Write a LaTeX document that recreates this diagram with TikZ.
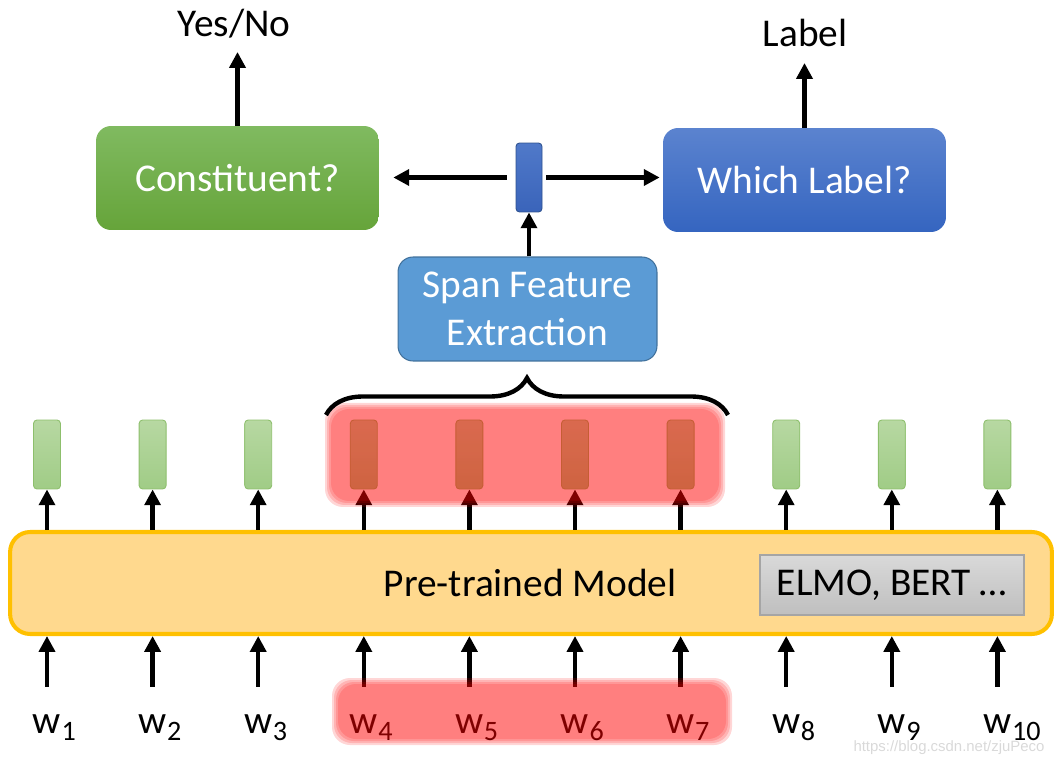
\documentclass[tikz,border=0pt]{standalone}
\usepackage{fontspec}
\setmainfont{Carlito}
\newfontfamily\wmfont{Liberation Sans}
\usetikzlibrary{arrows.meta, positioning, decorations.pathreplacing}

\definecolor{consA}{HTML}{80BA60}
\definecolor{consB}{HTML}{66A43A}
\definecolor{whichA}{HTML}{5B83CF}
\definecolor{whichB}{HTML}{3565C0}
\definecolor{spanfill}{HTML}{5B9BD5}
\definecolor{spanborder}{HTML}{41719C}
\definecolor{vecA}{HTML}{5079C9}
\definecolor{vecB}{HTML}{3A64BA}
\definecolor{vecborder}{HTML}{2F528F}
\definecolor{tokA}{HTML}{B7D8A2}
\definecolor{tokB}{HTML}{A0CC86}
\definecolor{tokborder}{HTML}{8DBF6C}
\definecolor{modelfill}{HTML}{FFD98E}
\definecolor{modelborder}{HTML}{FFC000}
\definecolor{elmoA}{HTML}{D9D9D9}
\definecolor{elmoB}{HTML}{BFBFBF}
\definecolor{elmoborder}{HTML}{A5A5A5}

\begin{document}
\begin{tikzpicture} [
						x=0.02cm, y=-0.02cm,
						font=\fontsize{22.4}{27}\selectfont,
						arr/.style={line width=2.5pt, -{Triangle[length=9pt, width=9pt]}},
						tokvec/.style={draw=tokborder, line width=0.5pt, rounded corners=2pt,
							top color=tokA, bottom color=tokB, minimum width=0.54cm,
							minimum height=1.38cm, inner sep=0pt},
						decision/.style={rounded corners=0.3cm, minimum width=5.66cm,
							minimum height=2.08cm, text=white, inner sep=0pt},
						word/.style={anchor=base, inner sep=0pt},
						glow/.style={fill=red, fill opacity=0.16, rounded corners=0.36cm}
					]

\useasboundingbox (0,0) rectangle (1062,763);

\node (cons) [decision, top color=consA, bottom color=consB] at (237.5,178) {Constituent?};
\node (which) [decision, top color=whichA, bottom color=whichB] at (804.5,180) {Which Label?};
\node (vec) [draw=vecborder, line width=0.5pt, rounded corners=2pt, top color=vecA, bottom color=vecB,
	minimum width=0.52cm, minimum height=1.38cm, inner sep=0pt] at (529,177.5) {};
\node (span) [draw=spanborder, line width=0.6pt, fill=spanfill, rounded corners=0.3cm, text=white,
	align=center, minimum width=5.18cm, minimum height=2.08cm, inner sep=0pt] at (527.5,309)
	{Span Feature\\Extraction};
\node (yesno) [anchor=base, inner sep=0pt] at (234,37) {Yes/No};
\node (lbl) [anchor=base, inner sep=0pt] at (805,47) {Label};

\node (model) [draw=modelborder, line width=2.3pt, fill=modelfill, rounded corners=0.4cm,
	minimum width=20.84cm, minimum height=2.04cm] at (531,583) {};
\node (ptm) at (530,583) {Pre-trained Model};
\node (elmo) [draw=elmoborder, line width=0.8pt, top color=elmoA, bottom color=elmoB,
	minimum width=5.28cm, minimum height=1.2cm, inner sep=0pt] at (892,585) {ELMO, BERT …};

\foreach \i in {1,...,10} {
	\pgfmathsetmacro\cx{47+(\i-1)*105.6}
	\node (h\i) [tokvec] at (\cx,454.5) {};
	\node (w\i) [word] at (\cx,733) {w\rlap{\kern0.3pt\raisebox{-4pt}{\fontsize{16}{16}\selectfont\i}}};
	\draw[arr] (h\i.south |- model.north) -- (h\i.south);
	\draw[arr, shorten <=0.54cm] (w\i.north) -- (w\i.north |- model.south);
}

\path[arr]
	(vec.south |- span.north) edge (vec.south)
	(cons.north) edge[shorten >=0.3cm] (cons.north |- yesno.base)
	(which.north) edge[shorten >=0.32cm] (which.north |- lbl.base);
\draw[arr, shorten <=0.18cm, shorten >=0.28cm] (vec.west) -- (vec.west -| cons.east);
\draw[arr, shorten <=0.08cm, shorten >=0.06cm] (vec.east) -- (vec.east -| which.west);

% highlighted span
\foreach \k in {0,...,3} {
	\fill[glow] (325+\k*2,403+\k*2) rectangle (725-\k*2,507-\k*2);
	\fill[glow] (332+\k*2,678+\k*2) rectangle (732-\k*2,745-\k*2);
}

\coordinate (brl) at (326,415);
\coordinate (brr) at (728,415);
\draw[line width=2.5pt, decorate, decoration={brace, amplitude=0.74cm}] (brl) -- (brr);

\node (wm) [text=gray!30, font=\wmfont\fontsize{8.5}{9}\selectfont] at (949,748) {https://blog.csdn.net/zjuPeco};
\end{tikzpicture}
\end{document}
